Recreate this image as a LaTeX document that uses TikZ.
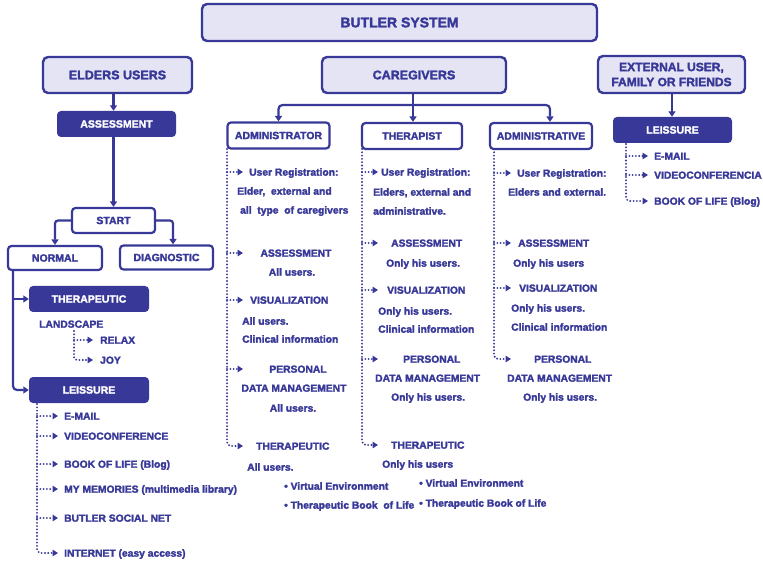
\documentclass[tikz,border=0pt]{standalone}
\usepackage{fontspec}
\setmainfont{Liberation Sans}[BoldFeatures={FakeBold=2.2}]
\usetikzlibrary{arrows.meta,calc}
\definecolor{mainc}{RGB}{56,56,152}
\definecolor{lightc}{RGB}{228,228,245}
\begin{document}
\begin{tikzpicture}[x=1pt,y=-1pt,
  txt/.style={font=\bfseries\fontsize{10.3}{12}\selectfont, text=mainc, inner sep=0pt, text height=7.4pt, text depth=0pt},
  bigbox/.style={draw=mainc, fill=lightc, line width=2.4pt, rounded corners=5pt, inner sep=0pt, text=mainc, align=center,
    font=\bfseries\fontsize{12.5}{15}\selectfont},
  subbox/.style={draw=mainc, fill=white, line width=2.2pt, rounded corners=3.5pt, inner sep=0pt, text=mainc,
    font=\bfseries\fontsize{10.5}{12}\selectfont, minimum height=25pt},
  darkbox/.style={fill=mainc, rounded corners=4pt, inner sep=0pt, text=white,
    font=\bfseries\fontsize{10.5}{12}\selectfont, minimum height=26pt},
  conn/.style={draw=mainc, line width=2.2pt, -{Triangle[length=5.5pt,width=7pt]}},
  plain/.style={draw=mainc, line width=2.2pt},
  dotarr/.style={draw=mainc, line width=2.1pt, line cap=round, dash pattern=on 0pt off 3.3pt,
    -{Triangle[length=5.5pt,width=6.5pt,fill=mainc]}},
  dotline/.style={draw=mainc, line width=2.1pt, line cap=round, dash pattern=on 0pt off 3.3pt}
]
\useasboundingbox (0,0) rectangle (763,561);

% ---------- main boxes ----------
\node[bigbox, minimum width=395pt, minimum height=37pt, font=\bfseries\fontsize{14}{16}\selectfont] (sys) at (399.5,22.5) {BUTLER SYSTEM};
\node[bigbox, minimum width=149pt, minimum height=36pt] (eld) at (117.5,75) {ELDERS USERS};
\node[bigbox, minimum width=184pt, minimum height=36pt] (care) at (414,75) {CAREGIVERS};
\node[bigbox, minimum width=147pt, minimum height=37pt, font=\bfseries\fontsize{12}{15}\selectfont] (ext) at (671.5,74.5) {EXTERNAL USER,\\FAMILY OR FRIENDS};

% ---------- elders tree ----------
\node[darkbox, minimum width=119pt] (ass) at (116.5,124) {ASSESSMENT};
\node[subbox, minimum width=83pt] (start) at (113.5,220.5) {START};
\node[subbox, minimum width=94pt, minimum height=24pt] (normal) at (55,258) {NORMAL};
\node[subbox, minimum width=93pt, minimum height=24pt] (diag) at (166.5,257.5) {DIAGNOSTIC};
\node[darkbox, minimum width=120pt] (therL) at (89,299) {THERAPEUTIC};
\node[darkbox, minimum width=120pt] (leisL) at (89,390) {LEISSURE};

\draw[conn] (eld.south -| start.north) -- (ass.north -| start.north);
\draw[conn] (ass.south -| start.north) -- (start.north);
\draw[conn, rounded corners=3pt] (start.west) -| (normal.north);
\draw[conn, rounded corners=3pt] (start.east) -| ([xshift=6.5pt]diag.north);

\coordinate (nb) at (13,270);
\draw[conn, rounded corners=4pt] (nb) |- (leisL.west);
\draw[conn] (therL.west -| nb) -- (therL.west);

\node[txt, anchor=west] (land) at (39,324) {LANDSCAPE};
\node[txt, anchor=west] (relax) at (100,340) {RELAX};
\node[txt, anchor=west] (joy) at (100,360) {JOY};
\coordinate (lx) at (74,331);
\coordinate (lt) at (93,331);
\draw[dotarr] (relax.west -| lx) -- (relax.west -| lt);
\draw[dotarr, rounded corners=3pt] (lx) |- (joy.west -| lt);

\node[txt, anchor=west] (le1) at (64,416) {E-MAIL};
\node[txt, anchor=west] (le2) at (64,436) {VIDEOCONFERENCE};
\node[txt, anchor=west] (le3) at (64,464) {BOOK OF LIFE (Blog)};
\node[txt, anchor=west] (le4) at (64,489) {MY MEMORIES (multimedia library)};
\node[txt, anchor=west] (le5) at (64,518) {BUTLER SOCIAL NET};
\node[txt, anchor=west] (le6) at (64,553) {INTERNET (easy access)};
\coordinate (dl) at (37,404);
\coordinate (dlt) at (58,404);
\foreach \n in {le1,le2,le3,le4,le5}{\draw[dotarr] (\n.west -| dl) -- (\n.west -| dlt);}
\draw[dotarr, rounded corners=4pt] (dl) |- (le6.west -| dlt);

% ---------- caregivers ----------
\node[subbox, minimum width=102pt, minimum height=26pt] (adm) at (278.5,135.5) {ADMINISTRATOR};
\node[subbox, minimum width=100pt, minimum height=26pt] (ther) at (412,136) {THERAPIST};
\node[subbox, minimum width=102pt, minimum height=26pt] (admv) at (541,136) {ADMINISTRATIVE};

\coordinate (cj) at (413,105);
\draw[plain] (care.south -| cj) -- (cj);
\draw[conn, rounded corners=4pt] (cj) -| (adm.north);
\draw[conn, rounded corners=4pt] (cj) -| ([xshift=9pt]admv.north);
\draw[conn] (cj) -- (cj |- ther.north);

% administrator column
\node[txt, anchor=west] (a1) at (249,172) {User Registration:};
\node[txt, anchor=west] (a1b) at (237,191) {Elder,~ external and};
\node[txt, anchor=west] (a1c) at (240,210) {all~ type~ of caregivers};
\node[txt] (a2) at (296,253) {ASSESSMENT};
\node[txt] (a2b) at (292,272) {All users.};
\node[txt, anchor=west] (a3) at (250,300) {VISUALIZATION};
\node[txt, anchor=west] (a3b) at (242,321) {All users.};
\node[txt, anchor=west] (a3c) at (242,339) {Clinical information};
\node[txt] (a4) at (298,369) {PERSONAL};
\node[txt] (a4b) at (294,388) {DATA MANAGEMENT};
\node[txt] (a4c) at (293,408) {All users.};
\node[txt, anchor=west] (a5) at (256,446) {THERAPEUTIC};
\node[txt, anchor=west] (a5b) at (247,467) {All users.};
\node[txt, anchor=west] (a5c) at (284,486) {\textbullet\ Virtual Environment};
\node[txt, anchor=west] (a5d) at (284,505) {\textbullet\ Therapeutic Book~ of Life};
\coordinate (ca) at (227,149);
\coordinate (cat) at (243,149);
\foreach \n in {a1,a2,a3,a4}{\draw[dotarr] (\n.west -| ca) -- (\n.west -| cat);}
\draw[dotarr, rounded corners=4pt] (ca) |- (a5.west -| cat);

% therapist column
\node[txt, anchor=west] (t1) at (381,172) {User Registration:};
\node[txt, anchor=west] (t1b) at (373,192) {Elders, external and};
\node[txt, anchor=west] (t1c) at (373,211) {administrative.};
\node[txt, anchor=west] (t2) at (391,243) {ASSESSMENT};
\node[txt, anchor=west] (t2b) at (386,263) {Only his users.};
\node[txt, anchor=west] (t3) at (387,290) {VISUALIZATION};
\node[txt, anchor=west] (t3b) at (378,311) {Only his users.};
\node[txt, anchor=west] (t3c) at (378,329) {Clinical information};
\node[txt, anchor=west] (t4) at (403,359) {PERSONAL};
\node[txt, anchor=west] (t4b) at (375,378) {DATA MANAGEMENT};
\node[txt, anchor=west] (t4c) at (391,397) {Only his users.};
\node[txt, anchor=west] (t5) at (391,445) {THERAPEUTIC};
\node[txt, anchor=west] (t5b) at (382,464) {Only his users};
\node[txt, anchor=west] (t5c) at (419,483) {\textbullet\ Virtual Environment};
\node[txt, anchor=west] (t5d) at (419,503) {\textbullet\ Therapeutic Book of Life};
\coordinate (cb) at (362,149);
\coordinate (cbt) at (378,149);
\foreach \n in {t1,t2,t3,t4}{\draw[dotarr] (\n.west -| cb) -- (\n.west -| cbt);}
\draw[dotarr, rounded corners=4pt] (cb) |- (t5.west -| cbt);

% administrative column
\node[txt, anchor=west] (d1) at (517,173) {User Registration:};
\node[txt, anchor=west] (d1b) at (508,192) {Elders and external.};
\node[txt, anchor=west] (d2) at (518,243) {ASSESSMENT};
\node[txt, anchor=west] (d2b) at (513,263) {Only his users};
\node[txt, anchor=west] (d3) at (519,288) {VISUALIZATION};
\node[txt, anchor=west] (d3b) at (511,308) {Only his users.};
\node[txt, anchor=west] (d3c) at (511,327) {Clinical information};
\node[txt, anchor=west] (d4) at (534,359) {PERSONAL};
\node[txt, anchor=west] (d4b) at (507,378) {DATA MANAGEMENT};
\node[txt, anchor=west] (d4c) at (523,397) {Only his users.};
\coordinate (cc) at (494,149);
\coordinate (cct) at (511,149);
\foreach \n in {d1,d2,d3}{\draw[dotarr] (\n.west -| cc) -- (\n.west -| cct);}
\draw[dotarr, rounded corners=4pt] (cc) |- (d4.west -| cct);

% ---------- external ----------
\node[darkbox, minimum width=119pt] (leisR) at (672.5,130) {LEISSURE};
\draw[conn] (ext.south -| 672,0) -- (leisR.north -| 672,0);
\node[txt, anchor=west] (e1) at (654,156) {E-MAIL};
\node[txt, anchor=west] (e2) at (654,175) {VIDEOCONFERENCIA};
\node[txt, anchor=west] (e3) at (654,201) {BOOK OF LIFE (Blog)};
\coordinate (ce) at (626,144);
\coordinate (cet) at (648,144);
\foreach \n in {e1,e2}{\draw[dotarr] (\n.west -| ce) -- (\n.west -| cet);}
\draw[dotarr, rounded corners=4pt] (ce) |- (e3.west -| cet);
\end{tikzpicture}
\end{document}
